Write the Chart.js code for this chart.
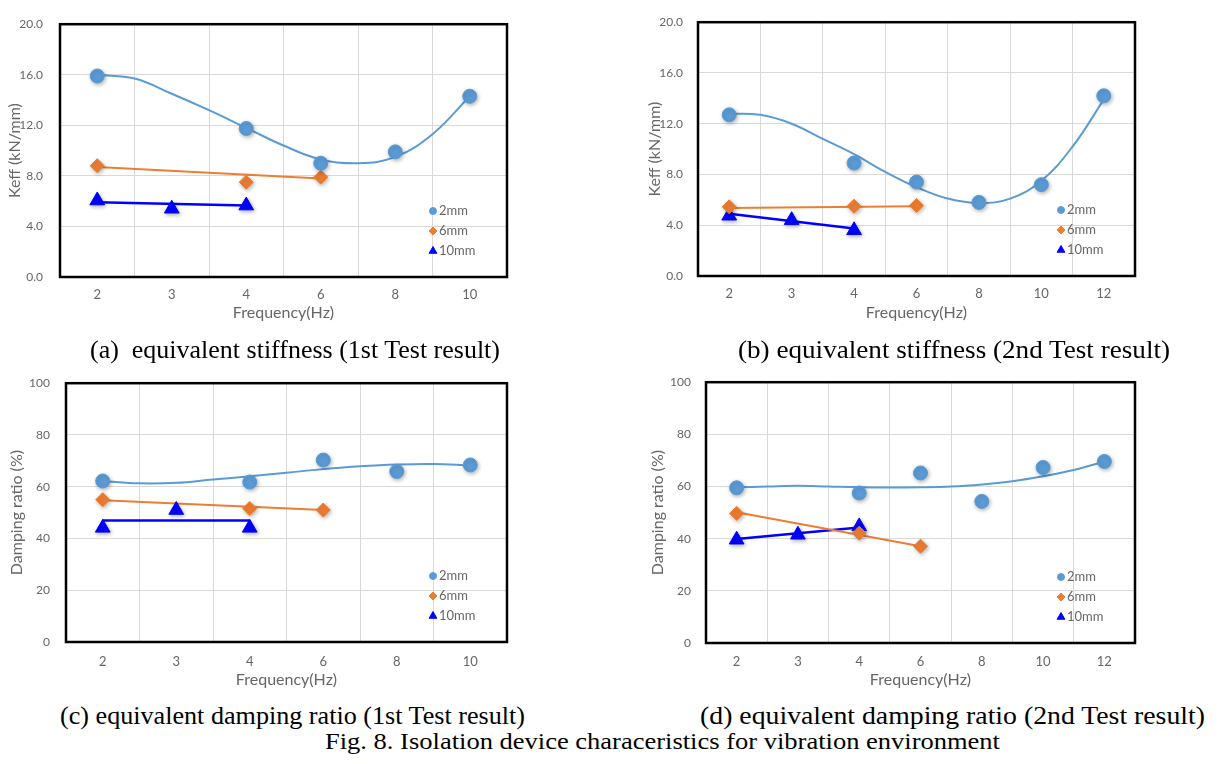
<!DOCTYPE html>
<html>
<head>
<meta charset="utf-8">
<script src="https://cdn.jsdelivr.net/npm/chart.js@4.4.0/dist/chart.umd.min.js"></script>
<style>
  body { margin: 0; width: 1231px; height: 764px; background: #fff; position: relative; overflow: hidden; }
  canvas { position: absolute; }
  .cap { position: absolute; font-family: "Liberation Serif", serif; white-space: pre; color: #000; line-height: 1.2; transform-origin: 0 0; }
</style>
</head>
<body>
<canvas id="chartA" width="525" height="325" style="left:0;top:0"></canvas>
<canvas id="chartB" width="540" height="325" style="left:615px;top:0"></canvas>
<canvas id="chartC" width="525" height="330" style="left:0;top:360px"></canvas>
<canvas id="chartD" width="540" height="330" style="left:615px;top:360px"></canvas>

<div class="cap" id="capA">(a)  equivalent stiffness (1st Test result)</div>
<div class="cap" id="capB">(b) equivalent stiffness (2nd Test result)</div>
<div class="cap" id="capC">(c) equivalent damping ratio (1st Test result)</div>
<div class="cap" id="capD">(d) equivalent damping ratio (2nd Test result)</div>
<div class="cap" id="capFig">Fig. 8. Isolation device characeristics for vibration environment</div>

<script>
// frequency categories
const freqA = ["2", "3", "4", "6", "8", "10"];
const freqB = ["2", "3", "4", "6", "8", "10", "12"];
const freqC = ["2", "3", "4", "6", "8", "10"];
const freqD = ["2", "3", "4", "6", "8", "10", "12"];

// (a) Keff, 1st test
const keffA2mm = [15.9, null, 11.75, 9.0, 9.9, 14.3];
const keffA6mm = [8.8, null, 7.5, 7.9, null, null];
const keffA10mm = [6.05, 5.4, 5.65, null, null, null];
// (b) Keff, 2nd test
const keffB2mm = [12.7, null, 8.9, 7.4, 5.8, 7.2, 14.2];
const keffB6mm = [5.45, null, 5.5, 5.55, null, null, null];
const keffB10mm = [4.75, 4.4, 3.6, null, null, null, null];
// (c) damping, 1st test
const dampC2mm = [62.2, null, 61.8, 70.3, 65.9, 68.4];
const dampC6mm = [55.0, null, 51.6, 51.0, null, null];
const dampC10mm = [44.1, 51.0, 44.1, null, null, null];
// (d) damping, 2nd test
const dampD2mm = [59.5, null, 57.5, 65.2, 54.3, 67.3, 69.6];
const dampD6mm = [49.7, null, 42.1, 37.1, null, null, null];
const dampD10mm = [39.6, 41.5, 44.7, null, null, null, null];

// trendlines (x = category slot, 1 = first label)
const trendPos6 = [1, 1.5, 2, 2.5, 3, 3.5, 4, 4.5, 5, 5.5, 6];
const trendPos7 = [1, 1.5, 2, 2.5, 3, 3.5, 4, 4.5, 5, 5.5, 6, 6.5, 7];
const trendA2mm = [16.0, 15.7, 14.5, 13.2, 11.8, 10.4, 9.3, 9.0, 9.5, 11.3, 14.3];
const trendB2mm = [12.8, 12.7, 12.0, 10.8, 9.6, 8.2, 7.0, 6.1, 5.75, 6.1, 7.5, 10.2, 13.9];
const trendC2mm = [62.2, 61.3, 61.5, 62.8, 64.0, 65.4, 66.8, 67.9, 68.6, 68.8, 68.2];
const trendD2mm = [59.7, 60.0, 60.3, 60.0, 59.7, 59.6, 59.7, 60.0, 60.8, 62.0, 63.9, 66.3, 69.6];
const trendEnds6mm = [1, 4];
const trendEnds10mm = [1, 3];
const trendA6mm = [8.7, 7.8];
const trendA10mm = [5.91, 5.66];
const trendB6mm = [5.35, 5.5];
const trendB10mm = [4.9, 3.75];
const trendC6mm = [54.8, 51.0];
const trendC10mm = [46.9, 46.9];
const trendD6mm = [50.1, 37.1];
const trendD10mm = [39.9, 44.3];

const seriesNames = ["2mm", "6mm", "10mm"];

const BLUE = "#5b9bd5";
const ORANGE = "#ed7d31";
const DEEP = "#0000ff";
const TEXT = "#666666";

Chart.defaults.font.family = "Lato";
Chart.defaults.color = TEXT;

function toPoints(values) {
  return values
    .map((v, i) => (v === null ? null : { x: i + 1, y: v }))
    .filter((p) => p);
}

function toLine(xs, ys) {
  return xs.map((x, i) => ({ x: x, y: ys[i] }));
}

// thick black frame round the plot area
const framePlugin = {
  id: "frame",
  afterDatasetsDraw(chart) {
    const a = chart.chartArea;
    const ctx = chart.ctx;
    ctx.save();
    ctx.strokeStyle = "#000";
    ctx.lineWidth = 2.5;
    ctx.strokeRect(a.left, a.top, a.right - a.left, a.bottom - a.top);
    ctx.restore();
  },
};

// soft shadow under the markers
const shadowPlugin = {
  id: "markerShadow",
  beforeDatasetDraw(chart, args) {
    if (args.index > 2) return;
    const ctx = chart.ctx;
    ctx.save();
    ctx.shadowColor = "rgba(0,0,0,0.3)";
    ctx.shadowBlur = 4;
    ctx.shadowOffsetX = 1;
    ctx.shadowOffsetY = 1.5;
  },
  afterDatasetDraw(chart, args) {
    if (args.index > 2) return;
    chart.ctx.restore();
  },
};

// legend sitting inside the plot, bottom right
const innerLegend = {
  id: "innerLegend",
  afterDraw(chart) {
    const a = chart.chartArea;
    const ctx = chart.ctx;
    const sizes = [3.5, 4, 4.5];
    ctx.save();
    ctx.font = "13px Lato";
    ctx.textBaseline = "middle";
    chart.data.datasets.slice(0, 3).forEach((ds, i) => {
      const x = a.right - 74;
      const y = a.bottom - 66 + i * 20;
      ctx.fillStyle = ds.backgroundColor;
      ctx.strokeStyle = ds.backgroundColor;
      Chart.helpers.drawPoint(ctx, { pointStyle: ds.pointStyle, radius: sizes[i], borderWidth: 1 }, x, y);
      ctx.fillStyle = TEXT;
      ctx.fillText(ds.label, x + 6, y);
    });
    ctx.restore();
  },
};

function makeChart(id, g) {
  const n = g.labels.length;
  const datasets = [
    { label: seriesNames[0], data: toPoints(g.s2), pointStyle: "circle", pointRadius: 7, backgroundColor: BLUE, borderColor: BLUE },
    { label: seriesNames[1], data: toPoints(g.s6), pointStyle: "rectRot", pointRadius: 7, backgroundColor: ORANGE, borderColor: ORANGE },
    { label: seriesNames[2], data: toPoints(g.s10), pointStyle: "triangle", pointRadius: 8.5, backgroundColor: DEEP, borderColor: DEEP },
    { label: "trend 2mm", data: toLine(g.tPos, g.t2), showLine: true, pointRadius: 0, borderColor: BLUE, borderWidth: 2, tension: 0.4 },
    { label: "trend 6mm", data: toLine(trendEnds6mm, g.t6), showLine: true, pointRadius: 0, borderColor: ORANGE, borderWidth: 2 },
    { label: "trend 10mm", data: toLine(trendEnds10mm, g.t10), showLine: true, pointRadius: 0, borderColor: DEEP, borderWidth: 2.5 },
  ];
  datasets.forEach((ds) => (ds.xAxisID = "xl"));

  return new Chart(document.getElementById(id), {
    type: "scatter",
    data: { labels: g.labels, datasets: datasets },
    plugins: [shadowPlugin, framePlugin, innerLegend],
    options: {
      responsive: false,
      animation: false,
      layout: { autoPadding: false, padding: { left: 0, top: g.padTop, right: g.padRight, bottom: 0 } },
      plugins: { legend: { display: false }, tooltip: { enabled: false } },
      scales: {
        x: {
          type: "category",
          labels: g.labels,
          offset: true,
          grid: { offset: true, color: "#d9d9d9", drawTicks: false },
          border: { display: false },
          ticks: { padding: g.xTickPad, font: { size: 13 }, color: TEXT },
          title: { display: true, text: "Frequency(Hz)", font: { size: 16, lineHeight: 1.2 }, color: TEXT, padding: { top: 0, bottom: g.xTitlePad } },
          afterFit(scale) { scale.height = g.xHeight; },
        },
        xl: { type: "linear", display: false, min: 0.5, max: n + 0.5 },
        y: {
          min: g.yMin,
          max: g.yMax,
          grid: { color: "#d9d9d9", drawTicks: false },
          border: { display: false },
          ticks: {
            stepSize: g.yStep,
            padding: g.yTickPad,
            font: { size: 12 },
            color: TEXT,
            callback: (v) => v.toFixed(g.yDigits),
          },
          title: { display: true, text: g.yTitle, font: { size: 16, lineHeight: 1.2 }, color: TEXT, padding: { top: g.yTitlePad, bottom: 0 } },
          afterFit(scale) { scale.width = g.yWidth; },
        },
      },
    },
  });
}

makeChart("chartA", {
  labels: freqA, s2: keffA2mm, s6: keffA6mm, s10: keffA10mm,
  tPos: trendPos6, t2: trendA2mm, t6: trendA6mm, t10: trendA10mm,
  yMin: 0, yMax: 20, yStep: 4, yDigits: 1, yTitle: "Keff (kN/mm)",
  padTop: 15, padRight: 18, yWidth: 60, xHeight: 48,
  yTickPad: 17, xTickPad: 10, yTitlePad: 5, xTitlePad: 3,
});

makeChart("chartB", {
  labels: freqB, s2: keffB2mm, s6: keffB6mm, s10: keffB10mm,
  tPos: trendPos7, t2: trendB2mm, t6: trendB6mm, t10: trendB10mm,
  yMin: 0, yMax: 20, yStep: 4, yDigits: 1, yTitle: "Keff (kN/mm)",
  padTop: 12, padRight: 20, yWidth: 83, xHeight: 49,
  yTickPad: 15, xTickPad: 10, yTitlePad: 30, xTitlePad: 3,
});

makeChart("chartC", {
  labels: freqC, s2: dampC2mm, s6: dampC6mm, s10: dampC10mm,
  tPos: trendPos6, t2: trendC2mm, t6: trendC6mm, t10: trendC10mm,
  yMin: 0, yMax: 100, yStep: 20, yDigits: 0, yTitle: "Damping ratio (%)",
  padTop: 20, padRight: 18, yWidth: 66, xHeight: 48,
  yTickPad: 16, xTickPad: 12, yTitlePad: 7, xTitlePad: 1,
});

makeChart("chartD", {
  labels: freqD, s2: dampD2mm, s6: dampD6mm, s10: dampD10mm,
  tPos: trendPos7, t2: trendD2mm, t6: trendD6mm, t10: trendD10mm,
  yMin: 0, yMax: 100, yStep: 20, yDigits: 0, yTitle: "Damping ratio (%)",
  padTop: 18, padRight: 20, yWidth: 91, xHeight: 47,
  yTickPad: 15, xTickPad: 11, yTitlePad: 33, xTitlePad: 1,
});

// captions: squeeze each to the width it takes in the figure
function placeCaption(id, x0, x1, cy, size) {
  const el = document.getElementById(id);
  el.style.fontSize = size + "px";
  el.style.left = x0 + "px";
  el.style.top = cy - size * 0.62 + "px";
  const w = el.getBoundingClientRect().width;
  el.style.transform = "scaleX(" + (x1 - x0) / w + ")";
}

placeCaption("capA", 90, 500, 350, 25);
placeCaption("capB", 738, 1170, 350, 25);
placeCaption("capC", 60, 525, 716, 25);
placeCaption("capD", 700, 1205, 716, 25);
placeCaption("capFig", 325, 1000, 742, 24);
</script>
</body>
</html>
